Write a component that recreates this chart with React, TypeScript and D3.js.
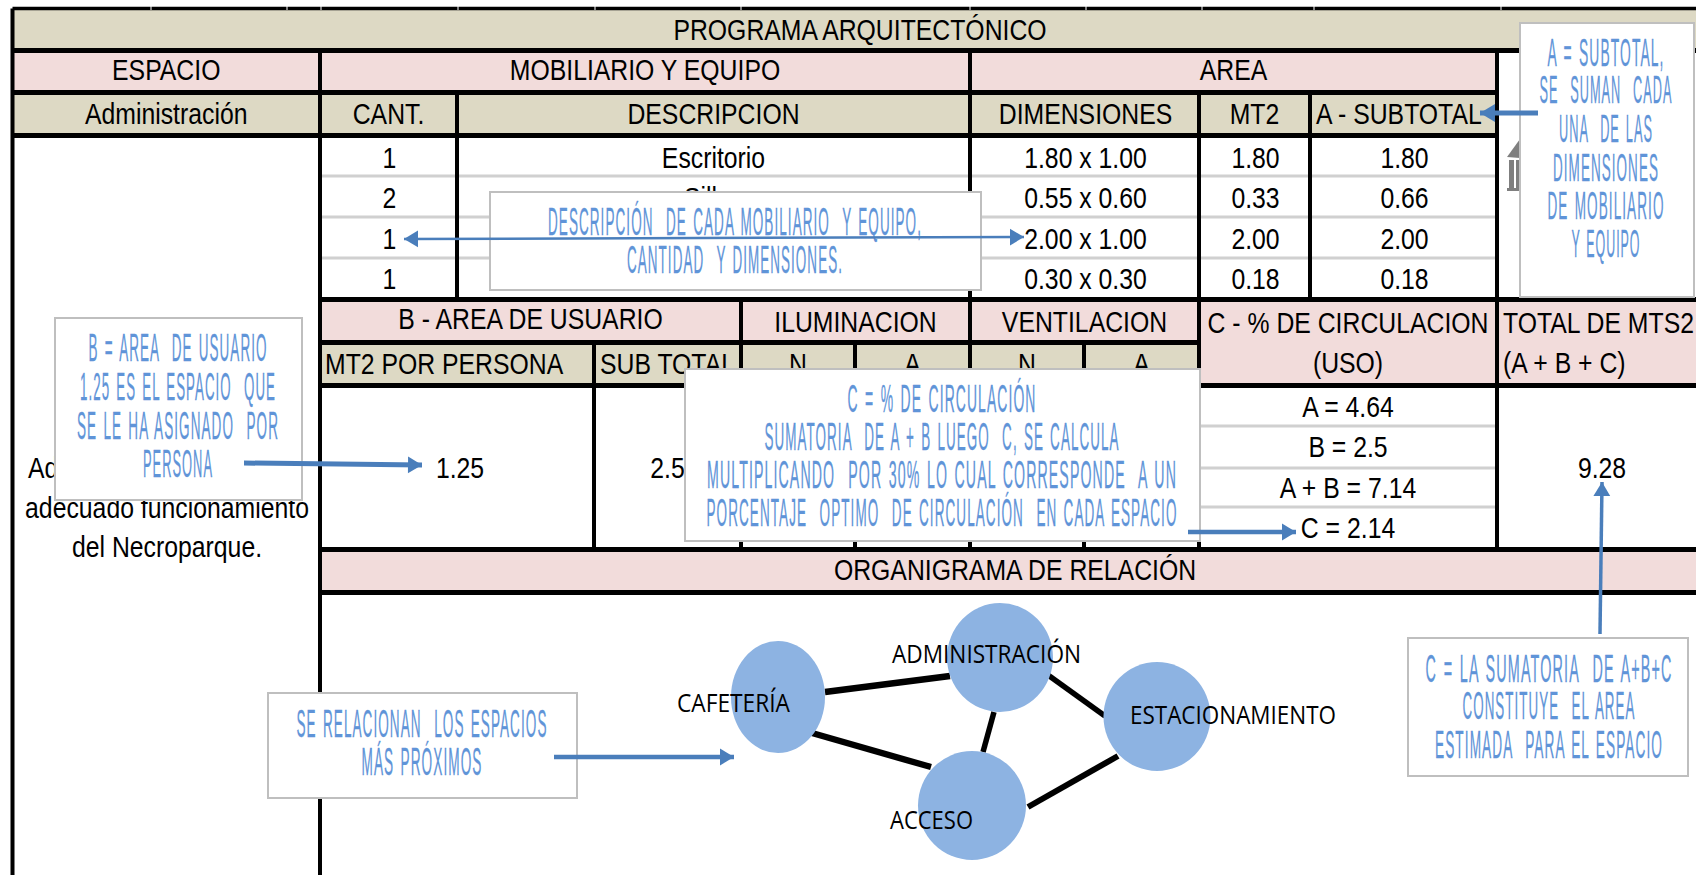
import React from 'react';
import * as d3 from 'd3';

// table content
const title = 'PROGRAMA ARQUITECTÓNICO';
const quantities = ['1', '2', '1', '1'];
const descriptions = ['Escritorio', 'Sillas'];
const dimensions = ['1.80 x 1.00', '0.55 x 0.60', '2.00 x 1.00', '0.30 x 0.30'];
const unitAreas = ['1.80', '0.33', '2.00', '0.18'];
const subtotals = ['1.80', '0.66', '2.00', '0.18'];
const circulation = ['A = 4.64', 'B = 2.5', 'A + B = 7.14', 'C = 2.14'];
const purposeLines = ['adecuado funcionamiento', 'del Necroparque.'];
const perPerson = '1.25';
const userSubtotal = '2.5';
const totalArea = '9.28';

// organigram
const nodes = ['CAFETERÍA', 'ADMINISTRACIÓN', 'ESTACIONAMIENTO', 'ACCESO'];
const relations = [
  ['CAFETERÍA', 'ADMINISTRACIÓN'],
  ['CAFETERÍA', 'ACCESO'],
  ['ADMINISTRACIÓN', 'ACCESO'],
  ['ADMINISTRACIÓN', 'ESTACIONAMIENTO'],
  ['ACCESO', 'ESTACIONAMIENTO'],
];

// callout text
const noteSubtotal = ['A = SUBTOTAL,', 'SE  SUMAN  CADA', 'UNA  DE LAS', 'DIMENSIONES', 'DE MOBILIARIO', 'Y EQUIPO'];
const noteFurniture = ['DESCRIPCIÓN  DE CADA MOBILIARIO  Y EQUIPO,', 'CANTIDAD  Y DIMENSIONES.'];
const noteUser = ['B = AREA  DE USUARIO', '1.25 ES EL ESPACIO  QUE', 'SE LE HA ASIGNADO  POR', 'PERSONA'];
const noteCirculation = [
  'C = % DE CIRCULACIÓN',
  'SUMATORIA  DE A + B LUEGO  C, SE CALCULA',
  'MULTIPLICANDO  POR 30% LO CUAL CORRESPONDE  A UN',
  'PORCENTAJE  OPTIMO  DE CIRCULACIÓN  EN CADA ESPACIO',
];
const noteRelation = ['SE RELACIONAN  LOS ESPACIOS', 'MÁS PRÓXIMOS'];
const noteTotal = ['C = LA SUMATORIA  DE A+B+C', 'CONSTITUYE  EL AREA', 'ESTIMADA  PARA EL ESPACIO'];

// layout
const x = d3.scaleOrdinal<string, number>()
  .domain(['frame', 'space', 'cant', 'persona', 'ilumN', 'ilumA', 'dim', 'ventA', 'mt2', 'sub', 'total', 'edge'])
  .range([12.5, 320, 457, 594, 741, 855, 970, 1084, 1199, 1310, 1497, 1696]);
const y = d3.scaleOrdinal<string, number>()
  .domain(['top', 'title', 'head', 'sub', 'rows', 'b', 'c', 'org', 'orgEnd', 'bottom'])
  .range([8.5, 50.5, 92.5, 135.5, 299.5, 342.5, 385.5, 549.5, 592.5, 875]);
const rowBase = d3.scalePoint<string>().domain(quantities.map((_, i) => String(i))).range([168, 289]);
const rowRule = [176, 217, 258];
const circBase = [417, 457, 498, 538];
const circRule = [426, 468, 507];
const mid = (a: string, b: string) => (x(a) + x(b)) / 2;

const nodeShape = d3.scaleOrdinal<string, number[]>().domain(nodes).range([
  [778, 697, 47, 56],
  [1000, 657.5, 53, 54.5],
  [1157, 716.5, 53.5, 54.5],
  [972, 805.5, 54, 54.5],
]);
const nodeLabel = d3.scaleOrdinal<string, number[]>().domain(nodes).range([
  [677, 712, 113],
  [892, 663, 189],
  [1130, 724, 206],
  [890, 829, 83],
]);
const relationEnds = [
  [825, 692, 950, 676, 6.5],
  [812, 733, 931, 767, 6.5],
  [994, 712, 983, 752, 5.5],
  [1048, 675, 1105, 716, 5.5],
  [1028, 807, 1118, 756, 6],
];

const TAN = '#ddd9c4';
const PINK = '#f2dcdb';
const BLUE = '#4a7ebb';
const NOTE = '#5f94d8';
const FONT = '"Liberation Sans", Arial, sans-serif';

const Cell = ({ at, base, children, anchor = 'middle' }: any) => (
  <text
    transform={`translate(${at},${base}) scale(0.855,1)`}
    textAnchor={anchor}
    fontFamily={FONT}
    fontSize={29}
    fill="#000"
  >
    {children}
  </text>
);

const Note = ({ box, cx, bases, lines, widths }: any) => (
  <g>
    <rect x={box[0]} y={box[1]} width={box[2] - box[0]} height={box[3] - box[1]} fill="#fff" stroke="#bfbfbf" strokeWidth={2} />
    {lines.map((line: string, i: number) => (
      <text
        key={i}
        x={cx}
        y={bases[i]}
        textAnchor="middle"
        fontFamily={FONT}
        fontSize={38}
        fill={NOTE}
        stroke={NOTE}
        strokeWidth={0.3}
        letterSpacing={3}
        wordSpacing={4}
        textLength={widths[i]}
        lengthAdjust="spacingAndGlyphs"
        style={{ whiteSpace: 'pre' }}
      >
        {line}
      </text>
    ))}
  </g>
);

const Arrow = ({ from, to, w, head = 14, both = false }: any) => {
  const a = Math.atan2(to[1] - from[1], to[0] - from[0]);
  const tip = (p: number[], t: number) => {
    const bx = p[0] - Math.cos(t) * head;
    const by = p[1] - Math.sin(t) * head;
    const nx = -Math.sin(t) * (head * 0.6);
    const ny = Math.cos(t) * (head * 0.6);
    return d3.line()([p as [number, number], [bx + nx, by + ny], [bx - nx, by - ny]]) + 'Z';
  };
  return (
    <g fill={BLUE}>
      <line x1={from[0]} y1={from[1]} x2={to[0]} y2={to[1]} stroke={BLUE} strokeWidth={w} />
      <path d={tip(to, a)} />
      {both && <path d={tip(from, a + Math.PI)} />}
    </g>
  );
};

export default function App() {
  const band = (x0: number, x1: number, y0: number, y1: number, fill: string) => (
    <rect x={x0} y={y0} width={x1 - x0} height={y1 - y0} fill={fill} />
  );
  const hRules: [string, string, string, number][] = [
    ['frame', 'edge', 'top', 3.5],
    ['frame', 'edge', 'title', 5],
    ['frame', 'total', 'head', 5],
    ['frame', 'total', 'sub', 5],
    ['space', 'edge', 'rows', 5],
    ['space', 'mt2', 'b', 5],
    ['space', 'edge', 'c', 5],
    ['space', 'edge', 'org', 5],
    ['space', 'edge', 'orgEnd', 5],
  ];
  const vRules: [string, string, string][] = [
    ['frame', 'top', 'bottom'],
    ['space', 'title', 'bottom'],
    ['cant', 'head', 'rows'],
    ['persona', 'b', 'org'],
    ['ilumN', 'rows', 'org'],
    ['ilumA', 'b', 'org'],
    ['dim', 'title', 'org'],
    ['ventA', 'b', 'org'],
    ['mt2', 'head', 'org'],
    ['sub', 'head', 'rows'],
    ['total', 'title', 'org'],
  ];
  const ticks = [151, 287, 321, 458, 595, 741, 970, 1086, 1202, 1314, 1501];

  return (
    <svg width={1696} height={875} style={{ position: 'absolute', left: 0, top: 0, background: '#fff' }}>
      {band(12, 1696, 10, 48, TAN)}
      {band(12, 320, 53, 90, PINK)}
      {band(320, x('total'), 53, 90, PINK)}
      {band(12, x('total'), 95, 133, TAN)}
      {band(320, x('mt2'), 302, 340, PINK)}
      {band(320, x('mt2'), 345, 383, TAN)}
      {band(x('mt2'), 1696, 302, 383, PINK)}
      {band(320, 1696, 552, 590, PINK)}

      {rowRule.map((r) => (
        <line key={r} x1={x('space')} x2={x('total')} y1={r} y2={r} stroke="#d0d0d0" strokeWidth={3} />
      ))}
      {circRule.map((r) => (
        <line key={r} x1={x('mt2')} x2={x('total')} y1={r} y2={r} stroke="#d0d0d0" strokeWidth={3} />
      ))}
      {hRules.map(([a, b, r, w], i) => (
        <line key={i} x1={x(a)} x2={x(b)} y1={y(r)} y2={y(r)} stroke="#000" strokeWidth={w} />
      ))}
      {vRules.map(([c, a, b], i) => (
        <line key={i} x1={x(c)} x2={x(c)} y1={y(a)} y2={y(b)} stroke="#000" strokeWidth={4} />
      ))}
      {ticks.map((t) => (
        <line key={t} x1={t} x2={t} y1={6} y2={10} stroke="#fff" strokeWidth={1} />
      ))}

      <Cell at={860} base={40}>{title}</Cell>
      <Cell at={mid('frame', 'space')} base={80}>ESPACIO</Cell>
      <Cell at={mid('space', 'dim')} base={80}>MOBILIARIO Y EQUIPO</Cell>
      <Cell at={mid('dim', 'total')} base={80}>AREA</Cell>
      <Cell at={mid('frame', 'space')} base={124}>Administración</Cell>
      <Cell at={mid('space', 'cant')} base={124}>CANT.</Cell>
      <Cell at={mid('cant', 'dim')} base={124}>DESCRIPCION</Cell>
      <Cell at={mid('dim', 'mt2') + 1} base={124}>DIMENSIONES</Cell>
      <Cell at={mid('mt2', 'sub')} base={124}>MT2</Cell>
      <Cell at={x('sub') + 6} base={124} anchor="start">A - SUBTOTAL</Cell>

      {quantities.map((q, i) => {
        const base = rowBase(String(i));
        return (
          <g key={i}>
            <Cell at={mid('space', 'cant') + 1} base={base}>{q}</Cell>
            {descriptions[i] && <Cell at={mid('cant', 'dim')} base={base}>{descriptions[i]}</Cell>}
            <Cell at={mid('dim', 'mt2') + 1} base={base}>{dimensions[i]}</Cell>
            <Cell at={mid('mt2', 'sub') + 1} base={base}>{unitAreas[i]}</Cell>
            <Cell at={mid('sub', 'total') + 1} base={base}>{subtotals[i]}</Cell>
          </g>
        );
      })}

      <Cell at={mid('space', 'ilumN')} base={329}>B - AREA DE USUARIO</Cell>
      <Cell at={mid('ilumN', 'dim')} base={332}>ILUMINACION</Cell>
      <Cell at={mid('dim', 'mt2')} base={332}>VENTILACION</Cell>
      <Cell at={mid('mt2', 'total')} base={333}>C - % DE CIRCULACION</Cell>
      <Cell at={mid('mt2', 'total')} base={373}>(USO)</Cell>
      <Cell at={x('total') + 6} base={333} anchor="start">TOTAL DE MTS2</Cell>
      <Cell at={x('total') + 6} base={373} anchor="start">(A + B + C)</Cell>
      <Cell at={x('space') + 5} base={374} anchor="start">MT2 POR PERSONA</Cell>
      <Cell at={x('persona') + 6} base={374} anchor="start">SUB TOTAL</Cell>
      <Cell at={mid('ilumN', 'ilumA')} base={374}>N</Cell>
      <Cell at={mid('ilumA', 'dim')} base={374}>A</Cell>
      <Cell at={mid('dim', 'ventA')} base={374}>N</Cell>
      <Cell at={mid('ventA', 'mt2')} base={374}>A</Cell>

      <Cell at={460} base={478}>{perPerson}</Cell>
      <Cell at={mid('persona', 'ilumN')} base={478}>{userSubtotal}</Cell>
      <Cell at={1602} base={478}>{totalArea}</Cell>
      {circulation.map((c, i) => (
        <Cell key={c} at={mid('mt2', 'total')} base={circBase[i]}>{c}</Cell>
      ))}
      <Cell at={28} base={478} anchor="start">Ad</Cell>
      {purposeLines.map((l, i) => (
        <Cell key={l} at={167} base={518 + i * 39}>{l}</Cell>
      ))}
      <Cell at={1015} base={580}>ORGANIGRAMA DE RELACIÓN</Cell>

      {/* building icon, mostly hidden by the callout */}
      <g fill="#7f7f7f">
        <path d="M1507 157 L1520 139 L1520 158 Z" />
        <rect x={1509} y={160} width={5} height={29} />
        <rect x={1516} y={160} width={4} height={29} />
        <rect x={1507} y={188} width={13} height={3} />
      </g>

      {relationEnds.map((r, i) => (
        <line key={relations[i].join('-')} x1={r[0]} y1={r[1]} x2={r[2]} y2={r[3]} stroke="#000" strokeWidth={r[4]} />
      ))}
      {nodes.map((n) => {
        const [cx, cy, rx, ry] = nodeShape(n);
        return <ellipse key={n} cx={cx} cy={cy} rx={rx} ry={ry} fill="#8db3e2" />;
      })}
      {nodes.map((n) => {
        const [lx, ly, lw] = nodeLabel(n);
        return (
          <text key={n} x={lx} y={ly} fontFamily='"Open Sans", sans-serif' fontSize={26} fill="#000" textLength={lw} lengthAdjust="spacingAndGlyphs">
            {n}
          </text>
        );
      })}

      <Note box={[1520, 23, 1694, 297]} cx={1606} bases={[66, 103, 142, 181, 219, 257]} lines={noteSubtotal} widths={[117, 133, 94, 106, 117, 69]} />
      <Note box={[490, 192, 981, 290]} cx={735} bases={[235, 273]} lines={noteFurniture} widths={[374, 216]} />
      <Note box={[55, 318, 302, 500]} cx={178} bases={[361, 400, 439, 477]} lines={noteUser} widths={[179, 196, 202, 70]} />
      <Note box={[685, 369, 1200, 541]} cx={942} bases={[412, 450, 488, 526]} lines={noteCirculation} widths={[189, 355, 470, 471]} />
      <Note box={[268, 693, 577, 798]} cx={422} bases={[737, 775]} lines={noteRelation} widths={[251, 121]} />
      <Note box={[1408, 638, 1688, 776]} cx={1549} bases={[682, 719, 758]} lines={noteTotal} widths={[247, 173, 228]} />

      <Arrow from={[404, 239]} to={[1024, 237]} w={2.5} both />
      <Arrow from={[1538, 113]} to={[1480, 113]} w={5} head={15} />
      <Arrow from={[244, 463]} to={[422, 465]} w={5} />
      <Arrow from={[1188, 532]} to={[1296, 532]} w={4.5} />
      <Arrow from={[554, 757]} to={[734, 757]} w={4.5} />
      <Arrow from={[1600, 634]} to={[1602, 482]} w={3.5} />
    </svg>
  );
}
